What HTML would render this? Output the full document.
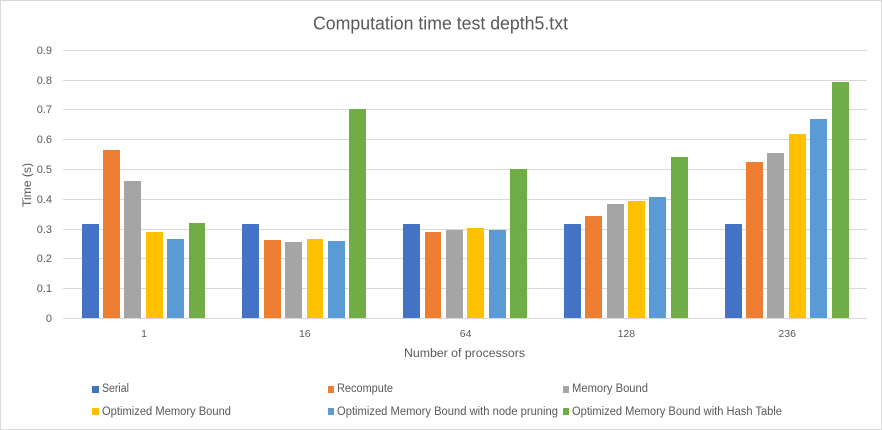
<!DOCTYPE html>
<html lang="en">
<head>
<meta charset="utf-8">
<title>Computation time test depth5.txt</title>
<style>
html,body{margin:0;padding:0;background:#fff;width:882px;height:430px;overflow:hidden}
svg{display:block}
text{font-family:"Liberation Sans",sans-serif;fill:#595959}
</style>
</head>
<body>
<svg id="chart" width="882" height="430" viewBox="0 0 882 430" xmlns="http://www.w3.org/2000/svg">
<rect x="0.5" y="0.5" width="881" height="429" fill="#fff" stroke="#d9d9d9"/>
<text x="440.5" y="29.5" text-anchor="middle" font-size="18" textLength="255" lengthAdjust="spacingAndGlyphs">Computation time test depth5.txt</text>
<g id="grid"></g>
<g id="bars" shape-rendering="crispEdges"></g>
<g id="yticks"></g>
<g id="xticks"></g>
<text x="464.5" y="357" text-anchor="middle" font-size="11.5" textLength="121" lengthAdjust="spacingAndGlyphs">Number of processors</text>
<text transform="translate(31 185) rotate(-90)" text-anchor="middle" font-size="11.5" textLength="44" lengthAdjust="spacingAndGlyphs">Time (s)</text>
<g id="legend">
<g><rect x="92" y="386" width="7" height="7" fill="#4472c4"/><text x="102" y="392" font-size="11.5" textLength="27" lengthAdjust="spacingAndGlyphs">Serial</text></g>
<g><rect x="328" y="386" width="6" height="7" fill="#ed7d31"/><text x="337" y="392" font-size="11.5" textLength="56" lengthAdjust="spacingAndGlyphs">Recompute</text></g>
<g><rect x="563" y="386" width="6" height="7" fill="#a5a5a5"/><text x="572" y="392" font-size="11.5" textLength="76" lengthAdjust="spacingAndGlyphs">Memory Bound</text></g>
<g><rect x="92" y="408" width="7" height="7" fill="#ffc000"/><text x="102" y="415" font-size="11.5" textLength="129" lengthAdjust="spacingAndGlyphs">Optimized Memory Bound</text></g>
<g><rect x="328" y="408" width="6" height="7" fill="#5b9bd5"/><text x="337" y="415" font-size="11.5" textLength="221" lengthAdjust="spacingAndGlyphs">Optimized Memory Bound with node pruning</text></g>
<g><rect x="563" y="408" width="6" height="7" fill="#70ad47"/><text x="572" y="415" font-size="11.5" textLength="210" lengthAdjust="spacingAndGlyphs">Optimized Memory Bound with Hash Table</text></g>
</g>
</svg>
<script>
const categories = ['1', '16', '64', '128', '236'];
const yTickLabels = ['0', '0.1', '0.2', '0.3', '0.4', '0.5', '0.6', '0.7', '0.8', '0.9'];
const serial = [0.316, 0.316, 0.316, 0.316, 0.316];
const recompute = [0.564, 0.262, 0.289, 0.343, 0.524];
const memoryBound = [0.46, 0.255, 0.296, 0.383, 0.554];
const optimizedMemoryBound = [0.289, 0.265, 0.302, 0.393, 0.618];
const nodePruning = [0.265, 0.259, 0.296, 0.406, 0.668];
const hashTable = [0.319, 0.702, 0.5, 0.541, 0.792];

const seriesList = [serial, recompute, memoryBound, optimizedMemoryBound, nodePruning, hashTable];
const seriesColors = ['#4472c4', '#ed7d31', '#a5a5a5', '#ffc000', '#5b9bd5', '#70ad47'];
const seriesNames = ['serial', 'recompute', 'memory-bound', 'optimized-memory-bound', 'node-pruning', 'hash-table'];

const NS = 'http://www.w3.org/2000/svg';
const plotLeft = 63, plotRight = 867, plotBottom = 318, plotTop = 50, yMax = 0.9;
const firstBarLeft = 82.03, groupStep = 160.79, barStep = 21.395, barWidth = 16.98;

function yScale(v) {
  return plotBottom - (v / yMax) * (plotBottom - plotTop);
}
function xBar(i, s) {
  return Math.floor(firstBarLeft + i * groupStep + s * barStep);
}
function xBarEnd(i, s) {
  return Math.floor(firstBarLeft + i * groupStep + s * barStep + barWidth);
}
function xLabel(i) {
  return 144 + i * groupStep;
}
function make(tag, attrs, parent) {
  const el = document.createElementNS(NS, tag);
  Object.keys(attrs).forEach(function (k) { el.setAttribute(k, attrs[k]); });
  parent.appendChild(el);
  return el;
}

const grid = document.getElementById('grid');
const yticks = document.getElementById('yticks');
const xticks = document.getElementById('xticks');
const bars = document.getElementById('bars');

yTickLabels.forEach(function (label) {
  const v = parseFloat(label);
  const y = Math.floor(yScale(v) + 0.4) + 0.5;
  const line = make('line', { x1: plotLeft, x2: plotRight, y1: y, y2: y, stroke: '#d9d9d9', 'stroke-width': 1 }, grid);
  
  
  const t = make('text', { x: 52, y: y + 3.5, 'text-anchor': 'end', 'font-size': 11 }, yticks);
  
  
  t.textContent = label;
});

categories.forEach(function (label, i) {
  const t = make('text', { x: xLabel(i), y: 337, 'text-anchor': 'middle', 'font-size': 10.5 }, xticks);
  
  
  t.textContent = label;
  seriesList.forEach(function (values, s) {
    const x = xBar(i, s);
    const top = Math.round(yScale(values[i]));
    const r = make('rect', { x: x, y: top, width: xBarEnd(i, s) - x, height: plotBottom - top, fill: seriesColors[s] }, bars);
    
    
  });
});
</script>
</body>
</html>
